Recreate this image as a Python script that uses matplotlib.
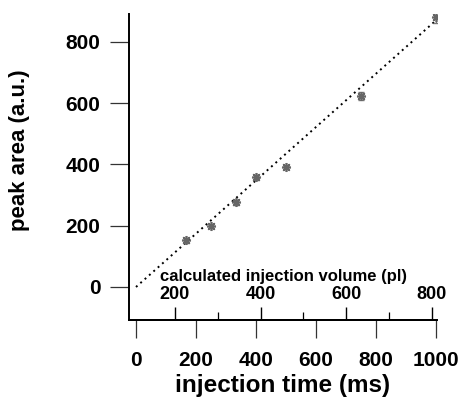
import matplotlib.pyplot as plt

plt.rcParams['font.family'] = ['Liberation Sans', 'DejaVu Sans']
plt.rcParams['font.weight'] = 'bold'

# measured peak areas
inj_time = [167, 250, 333, 400, 500, 750, 1000]
peak_area = [153, 199, 276, 358, 390, 623, 880]
area_err = [8, 8, 8, 8, 6, 12, 18]

# linear fit, drawn dotted
fit_time = [0, 1000]
fit_area = [0, 870]

time_ticks = [0, 200, 400, 600, 800, 1000]
area_ticks = [0, 200, 400, 600, 800]
vol_ticks = [200, 400, 600, 800]
vol_minor = [300, 500, 700]

# injection volume (pl) as a function of injection time (ms)
vol_slope = 0.7004
vol_offset = 109.0

W, H = 458, 404
fig = plt.figure(figsize=(W / 100, H / 100), dpi=100)
left, right, top, bottom = 129, 437, 14, 320
ax = fig.add_axes([left / W, 1 - bottom / H, (right - left) / W, (bottom - top) / H])

ax.plot(fit_time, fit_area, color='black', lw=1.4, linestyle=(0, (1, 2)))
ax.errorbar(inj_time, peak_area, yerr=area_err, fmt='none', ecolor='#777777',
            elinewidth=1.0, capsize=2)
ax.plot(inj_time, peak_area, linestyle='none', marker=(8, 2, 0), markersize=6.5,
        color='#666666', mew=1.2)

tlo, thi = -23.3, 1003.3
ax.set_xlim(tlo, thi)
ax.set_ylim(-107.7, 890.7)
ax.set_xticks(time_ticks)
ax.set_yticks(area_ticks)

for s in ['top', 'right']:
    ax.spines[s].set_visible(False)
ax.spines['left'].set_linewidth(1.4)
ax.spines['bottom'].set_linewidth(1.4)

ax.tick_params(axis='y', direction='out', length=13.5, width=0.9, pad=7,
               labelsize=15, color='#333333')
ax.tick_params(axis='x', direction='out', length=13, width=0.9, pad=9,
               labelsize=15, color='#333333')
for lab in ax.get_xticklabels() + ax.get_yticklabels():
    lab.set_fontweight('bold')

ax.set_ylabel('peak area (a.u.)', fontsize=16, fontweight='bold')
ax.yaxis.set_label_coords(-0.32, 1 - (150 - top) / (bottom - top))
ax.set_xlabel('injection time (ms)', fontsize=17.5, fontweight='bold', labelpad=3)

# secondary volume axis sitting on the bottom spine, ticks pointing up
vax = fig.add_axes([left / W, 1 - bottom / H, (right - left) / W, 0.0])
vax.set_xlim(vol_slope * tlo + vol_offset, vol_slope * thi + vol_offset)
vax.patch.set_visible(False)
for s in ['left', 'right', 'bottom']:
    vax.spines[s].set_visible(False)
vax.spines['top'].set_linewidth(1.4)
vax.yaxis.set_visible(False)
vax.xaxis.tick_top()
vax.xaxis.set_label_position('top')
vax.set_xticks(vol_ticks)
vax.set_xticks(vol_minor, minor=True)
vax.tick_params(axis='x', which='major', direction='out', length=9.5, width=1.0,
                pad=2.5, labelsize=13)
vax.tick_params(axis='x', which='minor', direction='out', length=6, width=0.9)
for lab in vax.get_xticklabels():
    lab.set_fontweight('bold')
vax.set_xlabel('calculated injection volume (pl)', fontsize=12,
               fontweight='bold', labelpad=4)

fig.savefig('out.png', dpi=100)
